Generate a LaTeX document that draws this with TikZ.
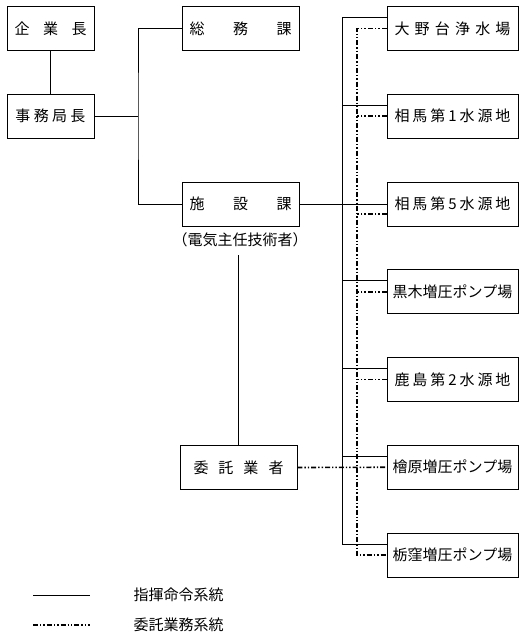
\documentclass[tikz,border=0pt]{standalone}
\usepackage{fontspec}
\newfontfamily\jp{Noto Sans CJK JP}

\begin{document}
\begin{tikzpicture}[x=1pt, y=-1pt,
    font=\jp\fontsize{15}{18}\selectfont,
    box/.style={draw, line width=0.8pt, inner sep=0pt, minimum height=44pt},
    cmd/.style={line width=0.8pt},
    entrust/.style={line width=1.6pt, dash pattern=on 5pt off 2pt on 1.4pt off 2pt on 1.4pt off 2pt}]
    \useasboundingbox (0,0) rectangle (524,640);
    % Head office
    \node[box, minimum width=87pt] (kigyo) at (50.5,28.5) {\makebox[72pt]{企\hfill 業\hfill 長}};
    \node[box, minimum width=87pt] (jimu) at (50.5,116) {\makebox[70pt]{事\hfill 務\hfill 局\hfill 長}};
    % Sections
    \node[box, minimum width=117pt] (somu) at (240.5,28.5) {\makebox[102pt]{総\hfill 務\hfill 課}};
    \node[box, minimum width=117pt] (shisetsu) at (240.5,204) {\makebox[102pt]{施\hfill 設\hfill 課}};
    \node (shisetsuNote) at (240,240) {（電気主任技術者）};
    \node[box, minimum width=117pt] (itaku) at (238.5,467.5) {\makebox[90pt]{委\hfill 託\hfill 業\hfill 者}};
    % Sites
    \foreach \name/\i in {{\makebox[116pt]{大\hfill 野\hfill 台\hfill 浄\hfill 水\hfill 場}}/1,
                          {\makebox[116pt]{相\hfill 馬\hfill 第\hfill 1\hfill 水\hfill 源\hfill 地}}/2,
                          {\makebox[116pt]{相\hfill 馬\hfill 第\hfill 5\hfill 水\hfill 源\hfill 地}}/3,
                          黒木増圧ポンプ場/4,
                          {\makebox[116pt]{鹿\hfill 島\hfill 第\hfill 2\hfill 水\hfill 源\hfill 地}}/5,
                          檜原増圧ポンプ場/6,
                          栃窪増圧ポンプ場/7} {
        \node[box, minimum width=131pt] (site-\i) at (452.5,{28.5+87.75*(\i-1)}) {\name};
    }
    % Buses
    \coordinate (busA) at (138,116);
    \coordinate (busB) at (342,0);
    \coordinate (busC) at (357,0);
    % Command lines
    \draw[cmd] (kigyo) -- (jimu);
    \draw[cmd] (jimu) -- (busA);
    \draw[cmd] (somu.west) -| (busA) |- (shisetsu.west);
    \draw[cmd] (shisetsu.east) -- (site-3.west);
    \draw[cmd] ([yshift=11pt]site-1.west -| busB) -- ([yshift=11pt]site-7.west -| busB);
    \foreach \i in {1,2,4,5,6,7} {
        \draw[cmd] ([yshift=11pt]site-\i.west) -- ([yshift=11pt]site-\i.west -| busB);
    }
    \draw[cmd] (itaku.north) -- ([yshift=-4pt]itaku.north |- shisetsuNote.south);
    % Entrusted work lines
    \draw[entrust] (site-1.west) -| (busC |- site-7.west) -- (site-7.west);
    \foreach \i in {2,4,5} {
        \draw[entrust] (site-\i.west) -- (site-\i.west -| busC);
    }
    \draw[entrust] ([yshift=-10pt]site-3.west) -- ([yshift=-10pt]site-3.west -| busC);
    \draw[entrust] (itaku.east) -- (site-6.west);
    % Legend
    \coordinate (keyA) at (33,595);
    \coordinate (keyB) at (90,595);
    \coordinate (keyC) at (33,625);
    \coordinate (keyD) at (90,625);
    \draw[cmd] (keyA) -- (keyB);
    \draw[entrust] (keyC) -- (keyD);
    \node[anchor=west] (keyCmd) at (130,595) {指揮命令系統};
    \node[anchor=west] (keyEntrust) at (130,625) {委託業務系統};
\end{tikzpicture}
\end{document}
